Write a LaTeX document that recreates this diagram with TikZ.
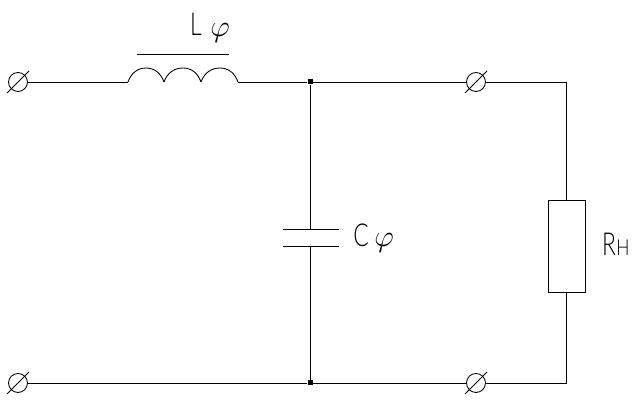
\documentclass[tikz,border=0pt]{standalone}
\usepackage{amsmath}
\usepackage{fontspec}
\newfontfamily\tagfont[UprightFont=* Light]{Lato}

\tikzset{
	wire/.style={line width=0.5pt},
	terminal/.style={draw,circle,line width=0.5pt,inner sep=0pt,minimum size=0.38cm},
	junction/.style={fill,rectangle,inner sep=0pt,minimum size=0.1cm},
	load/.style={draw,rectangle,line width=0.5pt,inner sep=0pt,minimum width=0.74cm,minimum height=1.84cm},
	tag/.style={inner sep=0pt,font=\tagfont\fontsize{18}{18}\selectfont,xscale=0.72},
}

\begin{document}
\begin{tikzpicture}[x=0.02cm,y=-0.02cm]
\useasboundingbox (0,0) rectangle (640,411);

% Terminals and junctions
\node[terminal] (inA) at (18,82) {};
\node[terminal] (inB) at (18,383) {};
\node[terminal] (outA) at (476,82) {};
\node[terminal] (outB) at (476,383) {};
\node[junction] (topJ) at (310,82) {};
\node[junction] (botJ) at (310,383) {};

% Slash through each terminal
\foreach \t in {inA,inB,outA,outB} {
	\draw[wire] (\t.center) ++(-11,11) -- ++(22,-22);
}

% Inductor
\coordinate (Lin) at (128,82);
\coordinate (Lout) at (238,82);
\foreach \a/\m/\b in {128/146/164,164/183/201,201/220/238} {
	\draw[wire] (\a,82) to[out=70,in=180] (\m,68) to[out=0,in=110] (\b,82);
}
\coordinate (barL) at (137,54);
\coordinate (barR) at (229,54);
\draw[wire] (barL) -- (barR);

% Capacitor
\coordinate (capT) at (310,229);
\coordinate (capB) at (310,246);
\coordinate (capTl) at (283,229);
\coordinate (capTr) at (339,229);
\coordinate (capBl) at (283,246);
\coordinate (capBr) at (339,246);
\draw[wire] (capTl) -- (capTr);
\draw[wire] (capBl) -- (capBr);

% Load
\node[load] (rload) at (566.5,246) {};
\coordinate (cornerT) at (566.5,82);
\coordinate (cornerB) at (566.5,383);

% Connections
\draw[wire] (inA) -- (Lin);
\draw[wire] (Lout) -- (topJ);
\draw[wire] (topJ) -- (outA);
\draw[wire] (outA) -- (cornerT) -- (rload);
\draw[wire] (rload) -- (cornerB) -- (outB);
\draw[wire] (outB) -- (botJ);
\draw[wire] (botJ) -- (inB);
\draw[wire] (topJ) -- (capT);
\draw[wire] (capB) -- (botJ);

% Labels
\node[tag] (Lname) at (196,24.5) {L};
\node[inner sep=0pt] (Lsub) at (220,33) {\LARGE$\varphi$};
\node[tag] (Cname) at (361,235) {C};
\node[inner sep=0pt] (Csub) at (384,243) {\LARGE$\varphi$};
\node[tag] (Rname) at (609,244) {R};
\node[tag,font=\tagfont\fontsize{12.5}{12.5}\selectfont,xscale=1.1] (Rsub) at (623,247.5) {H};

\end{tikzpicture}
\end{document}
